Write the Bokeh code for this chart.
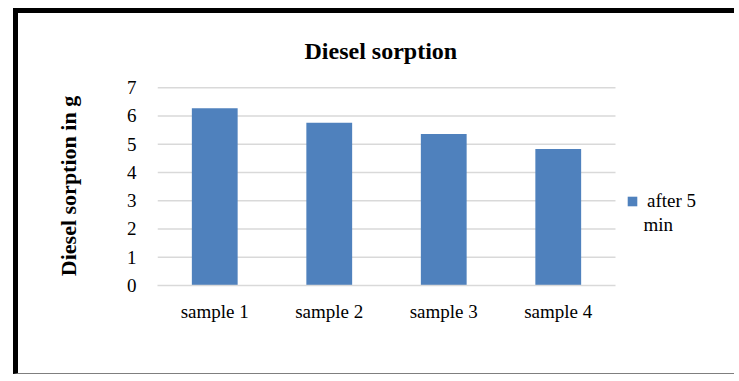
from bokeh.plotting import figure
from bokeh.models import Range1d, Legend, LegendItem, Label, FixedTicker
from bokeh.embed import file_html
from bokeh.resources import INLINE

# Diesel sorption per sample, measured after 5 minutes (grams)
categories = ["sample 1", "sample 2", "sample 3", "sample 4"]
sorption_after_5min = [6.27, 5.76, 5.36, 4.83]
y_ticks = [0, 1, 2, 3, 4, 5, 6, 7]
series_name = "after 5"
series_name_tail = "min"

SERIF = "Liberation Serif"
BLUE = "#4f81bd"
GRID = "#d9d9d9"

# one unit per category; the space right of the last category holds the legend
n = len(categories)
centers = [i + 0.5 for i in range(n)]

p = figure(
    x_range=Range1d(0, 5.083),
    y_range=Range1d(0, 7.04),
    width=721, height=366,
    output_backend="svg", toolbar_location=None,
    min_border_left=139, min_border_right=0,
    min_border_top=73, min_border_bottom=94,
    title="Diesel sorption",
)

# Boxed frame like a pasted chart object
p.styles = {
    "margin-left": "13px",
    "margin-top": "8px",
    "border-left": "5px solid #000000",
    "border-top": "5px solid #000000",
    "border-bottom": "1.5px solid #7f7f7f",
}

# horizontal gridlines across the category area only
p.segment(x0=0, x1=n, y0=y_ticks[1:], y1=y_ticks[1:],
          line_color=GRID, line_width=1.5)

bars = p.vbar(x=centers, top=sorption_after_5min, width=0.4,
              fill_color=BLUE, line_color=None)

p.outline_line_color = None
p.background_fill_color = "white"
p.border_fill_color = "white"
p.grid.visible = False

p.title.align = "left"
p.title.offset = 147
p.title.text_font = SERIF
p.title.text_font_style = "bold"
p.title.text_font_size = "24px"
p.title.text_color = "black"
p.title.standoff = 45

# y axis: labels only
p.yaxis.ticker = FixedTicker(ticks=y_ticks)
p.yaxis.axis_line_color = None
p.yaxis.major_tick_line_color = None
p.yaxis.minor_tick_line_color = None
p.yaxis.major_label_standoff = 15
p.yaxis.major_label_text_font = SERIF
p.yaxis.major_label_text_font_size = "19px"
p.yaxis.major_label_text_color = "black"
p.yaxis.axis_label = "Diesel sorption in g"
p.yaxis.axis_label_text_font = SERIF
p.yaxis.axis_label_text_font_style = "bold"
p.yaxis.axis_label_text_font_size = "22px"
p.yaxis.axis_label_text_color = "black"
p.yaxis.axis_label_standoff = 43

# x axis: gray baseline under the categories, category names as labels
p.xaxis.ticker = FixedTicker(ticks=centers)
p.xaxis.major_label_overrides = {c: name for c, name in zip(centers, categories)}
p.xaxis.bounds = (0, n)
p.xaxis.axis_line_color = GRID
p.xaxis.axis_line_width = 1.5
p.xaxis.major_tick_line_color = None
p.xaxis.minor_tick_line_color = None
p.xaxis.major_label_standoff = 9
p.xaxis.major_label_text_font = SERIF
p.xaxis.major_label_text_font_size = "19px"
p.xaxis.major_label_text_color = "black"

legend = Legend(
    items=[LegendItem(label=series_name, renderers=[bars])],
    location=(469, 73),
    glyph_width=12, glyph_height=12,
    label_text_font=SERIF, label_text_font_size="19px",
    label_text_color="black",
    label_standoff=9,
    padding=0, margin=0, spacing=0,
    border_line_color=None, background_fill_alpha=0,
)
p.add_layout(legend)

p.add_layout(Label(x=4.245, y=2.16, text=series_name_tail,
                   text_font=SERIF, text_font_size="19px",
                   text_color="black", text_baseline="alphabetic"))

open("out.html", "w").write(file_html(p, INLINE))
